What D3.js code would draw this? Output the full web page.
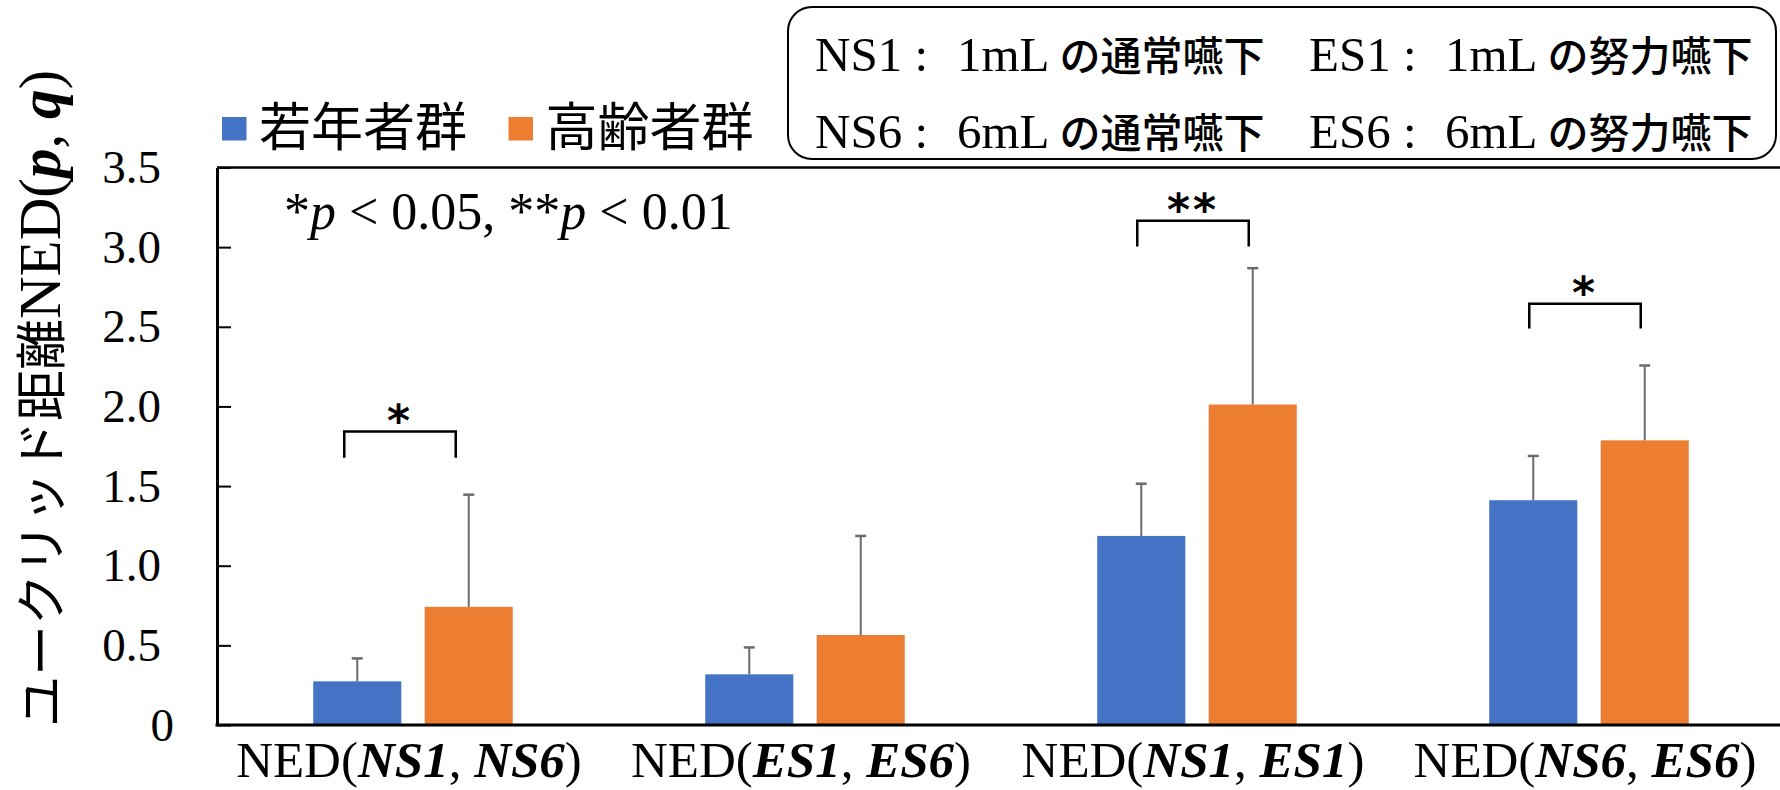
<!DOCTYPE html>
<html><head><meta charset="utf-8">
<script src="https://cdn.jsdelivr.net/npm/d3@7"></script>
<style>
html,body{margin:0;padding:0;background:#fff;}
svg{display:block;}
</style></head>
<body>
<svg id="chart" width="1780" height="790"></svg>
<script>
// ---- data ----
const categories = ["NS1,NS6", "ES1,ES6", "NS1,ES1", "NS6,ES6"];
const catLeft = [["NS1","NS6"],["ES1","ES6"],["NS1","ES1"],["NS6","ES6"]];
const groups = ["若年者群", "高齢者群"];
const youngMean = [0.274, 0.318, 1.187, 1.411];
const youngSD   = [0.144, 0.169, 0.328, 0.278];
const olderMean = [0.742, 0.565, 2.012, 1.787];
const olderSD   = [0.704, 0.622, 0.856, 0.470];
const yTicks = [0, 0.5, 1.0, 1.5, 2.0, 2.5, 3.0, 3.5];
const yTickLabels = ["0", "0.5", "1.0", "1.5", "2.0", "2.5", "3.0", "3.5"];
const sigCategory = [0, 2, 3];
const sigTop = [1.842, 3.165, 2.645];
const sigLeg = [1.678, 3.004, 2.489];
const sigLabel = ["*", "**", "*"];
const boxRows = [
  ["NS1 :", "1mL", "の通常嚥下", "ES1 :", "1mL", "の努力嚥下"],
  ["NS6 :", "6mL", "の通常嚥下", "ES6 :", "6mL", "の努力嚥下"]
];
const colors = ["#4472C4", "#ED7D31"];

const serif = "'Times New Roman','Liberation Serif','Noto Sans CJK JP',serif";
const cjk = "'Noto Sans CJK JP','Noto Sans',sans-serif";

const svg = d3.select("#chart");
const L = 217, R = 1785, T = 167.5, B = 725;

const x0 = d3.scaleBand().domain(categories).range([L, R]).paddingInner(0.491).paddingOuter(0.2455);
const x1 = d3.scaleBand().domain([0, 1]).range([0, x0.bandwidth()]).paddingInner(0.21);
const y = d3.scaleLinear().domain([0, 3.5]).range([B, T]);

const rows = categories.map((c, i) => ({c, i, vals: [
  {g: 0, m: youngMean[i], sd: youngSD[i]},
  {g: 1, m: olderMean[i], sd: olderSD[i]}
]}));

// bars
const gCat = svg.append("g").selectAll("g").data(rows).join("g")
  .attr("transform", d => `translate(${x0(d.c)},0)`);
gCat.selectAll("rect").data(d => d.vals).join("rect")
  .attr("x", d => x1(d.g)).attr("width", x1.bandwidth())
  .attr("y", d => y(d.m)).attr("height", d => y(0) - y(d.m))
  .attr("fill", d => colors[d.g]);

// error bars (upper only)
const eb = gCat.selectAll("g.eb").data(d => d.vals).join("g").attr("class", "eb");
eb.append("line")
  .attr("x1", d => x1(d.g) + x1.bandwidth()/2).attr("x2", d => x1(d.g) + x1.bandwidth()/2)
  .attr("y1", d => y(d.m)).attr("y2", d => y(d.m + d.sd))
  .attr("stroke", "#6b6b6b").attr("stroke-width", 2);
eb.append("line")
  .attr("x1", d => x1(d.g) + x1.bandwidth()/2 - 5.5).attr("x2", d => x1(d.g) + x1.bandwidth()/2 + 5.5)
  .attr("y1", d => y(d.m + d.sd)).attr("y2", d => y(d.m + d.sd))
  .attr("stroke", "#6b6b6b").attr("stroke-width", 2.5);

// frame (top line) and axes
svg.append("line").attr("x1", L).attr("x2", R).attr("y1", T).attr("y2", T)
  .attr("stroke", "#000").attr("stroke-width", 2.5);

const yAxis = d3.axisLeft(y).tickValues(yTicks)
  .tickFormat((d, i) => yTickLabels[i]).tickSizeInner(-14).tickSizeOuter(0).tickPadding(56);
const ga = svg.append("g").attr("transform", `translate(${L},0)`).call(yAxis);
ga.select(".domain").attr("stroke", "#000").attr("stroke-width", 3);
ga.selectAll(".tick line").attr("stroke", "#000").attr("stroke-width", 2);
ga.selectAll(".tick text").attr("font-family", serif).attr("font-size", 47).attr("fill", "#000")
  .attr("dx", d => d === 0 ? 13 : 0);

svg.append("line").attr("x1", L - 1.5).attr("x2", R).attr("y1", B).attr("y2", B)
  .attr("stroke", "#000").attr("stroke-width", 3);

// x labels
const xl = svg.append("g").selectAll("text").data(catLeft).join("text")
  .attr("x", (d, i) => x0(categories[i]) + x0.bandwidth()/2 - 4)
  .attr("y", 777).attr("text-anchor", "middle")
  .attr("font-family", serif).attr("font-size", 51).attr("fill", "#000");
xl.append("tspan").text("NED(");
xl.append("tspan").attr("font-weight", "bold").attr("font-style", "italic").text(d => d[0]);
xl.append("tspan").text(", ");
xl.append("tspan").attr("font-weight", "bold").attr("font-style", "italic").text(d => d[1]);
xl.append("tspan").text(")");

// significance brackets
sigCategory.forEach((ci, k) => {
  const c = categories[ci];
  const shift = ci === 0 ? -13 : -4;
  const xa = x0(c) + x1(0) + x1.bandwidth()/2 + shift;
  const xb = x0(c) + x1(1) + x1.bandwidth()/2 + shift;
  const yt = y(sigTop[k]), yl = y(sigLeg[k]);
  svg.append("path")
    .attr("d", `M${xa},${yl}V${yt}H${xb}V${yl}`)
    .attr("fill", "none").attr("stroke", "#000").attr("stroke-width", 2.5);
  svg.append("text").attr("x", (xa + xb)/2).attr("y", yt + 4)
    .attr("text-anchor", "middle").attr("font-family", "'DejaVu Sans',sans-serif")
    .attr("font-weight", "bold").attr("font-size", 44).attr("letter-spacing", 3).attr("fill", "#000")
    .text(sigLabel[k]);
});

// p-value note
const note = svg.append("text").attr("x", 284).attr("y", 229)
  .attr("font-family", serif).attr("font-size", 52).attr("fill", "#000");
note.append("tspan").text("*");
note.append("tspan").attr("font-style", "italic").text("p");
note.append("tspan").text(" < 0.05, **");
note.append("tspan").attr("font-style", "italic").text("p");
note.append("tspan").text(" < 0.01");

// legend (groups)
const legX = [222, 508.5];
groups.forEach((g, i) => {
  svg.append("rect").attr("x", legX[i]).attr("y", 117).attr("width", 24.5).attr("height", 23.5).attr("fill", colors[i]);
  svg.append("text").attr("x", legX[i] + 37).attr("y", 146)
    .attr("font-family", cjk).attr("font-size", 52).attr("fill", "#000").text(g);
});

// definition box
svg.append("rect").attr("x", 788).attr("y", 7).attr("width", 988).attr("height", 152)
  .attr("rx", 24).attr("fill", "none").attr("stroke", "#000").attr("stroke-width", 2);
const colX = [[815, 957], [1309, 1445]];
const rowY = [71, 148];
boxRows.forEach((r, ri) => {
  [0, 1].forEach(ci => {
    svg.append("text").attr("x", colX[ci][0]).attr("y", rowY[ri])
      .attr("font-family", serif).attr("font-size", 49).attr("fill", "#000").text(r[ci*3]);
    const t = svg.append("text").attr("x", colX[ci][1]).attr("y", rowY[ri])
      .attr("font-family", serif).attr("font-size", 49).attr("fill", "#000");
    t.append("tspan").text(r[ci*3 + 1]);
    t.append("tspan").attr("dx", 10).attr("font-family", cjk).attr("font-size", 41)
      .attr("font-weight", 500).text(r[ci*3 + 2]);
  });
});

// y axis title
const yt = svg.append("text").attr("transform", "translate(60,727) rotate(-90)")
  .attr("text-anchor", "start").attr("fill", "#000");
yt.append("tspan").attr("font-family", cjk).attr("font-size", 51).text("ユークリッド距離");
yt.append("tspan").attr("font-family", serif).attr("font-size", 59).text("NED(");
yt.append("tspan").attr("font-family", serif).attr("font-size", 59).attr("font-weight", "bold").attr("font-style", "italic").text("p");
yt.append("tspan").attr("font-family", serif).attr("font-size", 59).text(", ");
yt.append("tspan").attr("font-family", serif).attr("font-size", 59).attr("font-weight", "bold").attr("font-style", "italic").text("q");
yt.append("tspan").attr("font-family", serif).attr("font-size", 59).text(")");
</script>
</body></html>
